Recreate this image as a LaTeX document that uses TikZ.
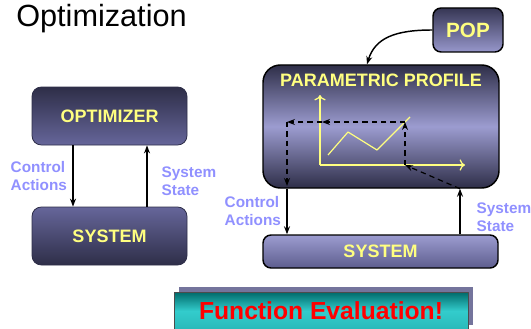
\documentclass[tikz,border=0pt]{standalone}
\usepackage{fontspec}
\setmainfont{Liberation Sans}
\usetikzlibrary{shadows,arrows.meta}

\definecolor{boxdark}{HTML}{2E2E48}
\definecolor{boxmid}{HTML}{66669A}
\definecolor{boxlight}{HTML}{9C9CD0}
\definecolor{boxtext}{HTML}{FFFF80}
\definecolor{lblblue}{HTML}{9090FF}
\definecolor{tealdark}{HTML}{006A6A}
\definecolor{tealmid}{HTML}{33CCCC}
\definecolor{shadowgray}{HTML}{74749C}

\tikzset{
  blockbox/.style={rounded corners=7pt, draw=boxdark, line width=0.6pt,
    text=boxtext, font=\fontsize{13.5}{16}\selectfont\bfseries},
  outlinebox/.style={blockbox, draw=black, line width=1.1pt},
  lbl/.style={text=lblblue, align=left, anchor=west,
    font=\fontsize{11.5}{13.5}\selectfont\bfseries},
  arr/.style={->, line width=1pt},
  chart/.style={draw=boxtext, line width=0.9pt},
  dsh/.style={->, dashed, dash pattern=on 4pt off 3pt, line width=0.9pt},
}

\begin{document}
\begin{tikzpicture}[x=0.75pt,y=-0.75pt,>={Stealth[length=6pt,width=4.5pt]},line join=round]
\useasboundingbox (0,0) rectangle (531,328);

% title
\node[anchor=base west, inner sep=0pt, font=\fontsize{23}{26}\selectfont] (title) at (16,27) {Optimization};

% left loop
\node[blockbox, top color=boxdark, bottom color=boxmid,
  minimum width=116.25pt, minimum height=43.5pt] (opt) at (109.5,116) {OPTIMIZER};
\node[blockbox, top color=boxmid, bottom color=boxdark,
  minimum width=116.25pt, minimum height=43.5pt] (sysL) at (109.5,236) {SYSTEM};

\coordinate (caL) at (73,0);
\coordinate (ssL) at (147,0);
\draw[arr] (caL |- opt.south) -- (caL |- sysL.north);
\draw[arr] (ssL |- sysL.north) -- (ssL |- opt.south);
\node[lbl] (ctlL) at (6,176) {Control\\Actions};
\node[lbl] (stL) at (157,181) {System\\State};

% right loop
\node[outlinebox, rounded corners=13pt, top color=boxdark, bottom color=boxdark,
  middle color=boxlight, minimum width=177pt, minimum height=92.25pt] (param) at (381,126.5) {};
\node[text=boxtext, font=\fontsize{13.5}{16}\selectfont\bfseries] (ptitle) at (381,80) {PARAMETRIC PROFILE};
\node[outlinebox, rounded corners=6pt, top color=boxdark!85!boxmid, bottom color=boxlight!90!boxmid,
  font=\fontsize{15.5}{18}\selectfont\bfseries,
  minimum width=52.5pt, minimum height=33pt] (pop) at (468,30) {POP};
\node[outlinebox, rounded corners=6pt, top color=boxlight, bottom color=boxmid!85!boxdark,
  minimum width=176.25pt, minimum height=24.75pt] (sysR) at (380.5,251.5) {SYSTEM};

\coordinate (popin) at (367,0);
\draw[arr, line width=1.1pt] (pop.west) .. controls (395,30) and (375,38) .. (popin |- param.north);

% profile chart
\coordinate (org) at (320,165);
\draw[chart,-{To[length=4pt]}] (org) -- (320,95);
\draw[chart,-{To[length=4pt]}] (org) -- (465,165);
\draw[chart] (328,155) -- (348,132) -- (377,150) -- (410,117);

% dashed evaluation path
\coordinate (caR) at (287,0);
\coordinate (ssR) at (460,0);
\coordinate (d1) at (405,165);
\coordinate (d2) at (405,122);
\coordinate (d3) at (322,122);
\coordinate (d4) at (287,122);
\coordinate (d5) at (287,186);
\draw[dsh] (ssR |- param.south) -- (d1);
\draw[dsh] (d1) -- (d2);
\draw[dsh] (d2) -- (d3);
\draw[dsh] (d3) -- (d4);
\draw[dsh] (d4) -- (d5);

\draw[arr] (caR |- param.south) -- (caR |- sysR.north);
\draw[arr] (ssR |- sysR.north) -- (ssR |- param.south);
\node[lbl] (ctlR) at (220,211) {Control\\Actions};
\node[lbl] (stR) at (472,217) {System\\State};

% function evaluation banner
\node[draw=black!70, line width=0.6pt, top color=tealdark, bottom color=tealmid!80!tealdark,
  middle color=tealmid, shading angle=0,
  drop shadow={shadow xshift=3.75pt, shadow yshift=3.75pt, fill=shadowgray, opacity=1},
  text=red, font=\fontsize{18.5}{22}\selectfont\bfseries,
  minimum width=220.5pt, minimum height=28.5pt] (feval) at (321,311) {Function Evaluation!};
\end{tikzpicture}
\end{document}
